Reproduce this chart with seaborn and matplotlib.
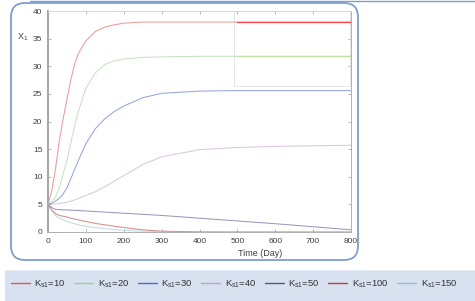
import numpy as np
import pandas as pd
import seaborn as sns
import matplotlib.pyplot as plt
from matplotlib.lines import Line2D
from matplotlib.patches import FancyBboxPatch, Rectangle

# time grid (days) and X1 values
time = [0, 10, 20, 30, 40, 50, 60, 70, 80, 100, 125, 150, 175, 200, 250, 300, 400, 500, 600, 700, 800]
ks1_10 = [5, 7.5, 11.5, 16.5, 20.5, 24, 27.5, 30.3, 32.3, 34.6, 36.3, 37.1, 37.5, 37.8, 38, 38, 38, 38, 38, 38, 38]
ks1_20 = [5, 5.5, 6.3, 8, 10.5, 13, 16, 19.2, 21.8, 26, 28.8, 30.3, 31, 31.3, 31.6, 31.7, 31.8, 31.8, 31.8, 31.8, 31.8]
ks1_30 = [5, 5.2, 5.6, 6.1, 6.9, 8, 9.6, 11.3, 12.9, 16, 18.7, 20.5, 21.8, 22.8, 24.3, 25.1, 25.5, 25.6, 25.6, 25.6, 25.6]
ks1_40 = [5, 5.05, 5.1, 5.15, 5.25, 5.4, 5.6, 5.8, 6.1, 6.6, 7.3, 8.2, 9.2, 10.2, 12.2, 13.6, 14.9, 15.3, 15.5, 15.6, 15.7]
ks1_50 = [5, 4.4, 4.1, 4.05, 4.0, 4.0, 3.95, 3.92, 3.9, 3.8, 3.7, 3.6, 3.5, 3.4, 3.2, 3.0, 2.5, 2.0, 1.5, 0.95, 0.4]
ks1_100 = [5, 4, 3.3, 3.0, 2.85, 2.7, 2.5, 2.35, 2.2, 1.9, 1.55, 1.3, 1.05, 0.8, 0.4, 0.15, 0.02, 0, 0, 0, 0]
ks1_150 = [5, 3.8, 3.0, 2.5, 2.2, 1.9, 1.7, 1.5, 1.3, 1.05, 0.8, 0.6, 0.45, 0.3, 0.15, 0.05, 0, 0, 0, 0, 0]

labels = ['K$_{\\mathregular{s1}}$=10', 'K$_{\\mathregular{s1}}$=20', 'K$_{\\mathregular{s1}}$=30',
          'K$_{\\mathregular{s1}}$=40', 'K$_{\\mathregular{s1}}$=50', 'K$_{\\mathregular{s1}}$=100',
          'K$_{\\mathregular{s1}}$=150']
series = [ks1_10, ks1_20, ks1_30, ks1_40, ks1_50, ks1_100, ks1_150]
colors = ['#e05858', '#a2d09a', '#4f6ac4', '#c4a0d0', '#55558f', '#c04040', '#92c6c6']
palette = dict(zip(labels, colors))

df = pd.concat([pd.DataFrame({'time': time, 'X1': s, 'K': lab}) for s, lab in zip(series, labels)])

sns.set_style('ticks')
plt.rcParams['font.family'] = ['Liberation Sans Narrow', 'Liberation Sans', 'DejaVu Sans']

fig = plt.figure(figsize=(4.75, 3.01), dpi=100)

# rounded frame round the chart, band for the legend
fig.patches.append(FancyBboxPatch((11, 41), 347, 257, boxstyle='round,pad=0,rounding_size=14',
                                  transform=None, facecolor='none', edgecolor='#7c9fd0', lw=1.3,
                                  zorder=-1))
fig.lines.append(Line2D([30, 475], [300, 300], transform=None, color='#7c9fd0', lw=1.0, zorder=-1))
fig.patches.append(Rectangle((5, 0), 470, 30, transform=None, facecolor='#d7e1ef', edgecolor='none',
                             zorder=-1))
fig.lines.append(Line2D([5, 475], [30, 30], transform=None, color='#8eaad6', lw=1.0, zorder=-1))

ax = fig.add_axes([48 / 475, 1 - 232 / 301, 303 / 475, 221 / 301])
sns.lineplot(data=df, x='time', y='X1', hue='K', palette=palette, lw=0.75, alpha=0.6,
             legend=False, ax=ax)

# brighter overlay in the upper right box
hi = df[(df['time'] >= 500) & df['K'].isin(labels[:2])]
sns.lineplot(data=hi, x='time', y='X1', hue='K', palette={labels[0]: '#ff4848', labels[1]: '#bde3a2'},
             lw=0.9, legend=False, ax=ax)
ax.add_patch(Rectangle((490, 26.5), 308, 13.5, facecolor='none', edgecolor='#e2e2e2', lw=0.6))

ax.set_xlim(0, 800)
ax.set_ylim(0, 40)
ax.set_xticks(range(0, 801, 100))
ax.set_yticks(range(0, 41, 5))
ax.set_xlabel('')
ax.set_ylabel('')
ax.tick_params(direction='in', length=2, width=0.5, top=True, right=True,
               labelsize=6, labelcolor='#404040', color='#999999', pad=4)
for side in ['top', 'right', 'bottom']:
    ax.spines[side].set_color('#b0b0b0')
    ax.spines[side].set_linewidth(0.7)
ax.spines['top'].set_color('#d8d8d8')
ax.spines['left'].set_color('#a8a8a8')
ax.spines['left'].set_linewidth(1.5)

fig.text(17 / 475, 1 - 37 / 301, 'X$_{\\mathregular{1}}$', fontsize=6.5, color='#404040', va='center')
fig.text(260 / 475, 1 - 254 / 301, 'Time (Day)', fontsize=6.5, color='#404040', ha='center', va='center')

handles = [Line2D([], [], color=c, lw=1.0) for c in colors]
fig.legend(handles, labels, ncol=7, loc='center', bbox_to_anchor=(234 / 475, 1 - 284 / 301),
           frameon=False, fontsize=6.8, handlelength=2.0, handletextpad=0.5, columnspacing=0.9,
           labelcolor='#333333')

fig.savefig('out.png', dpi=100)
